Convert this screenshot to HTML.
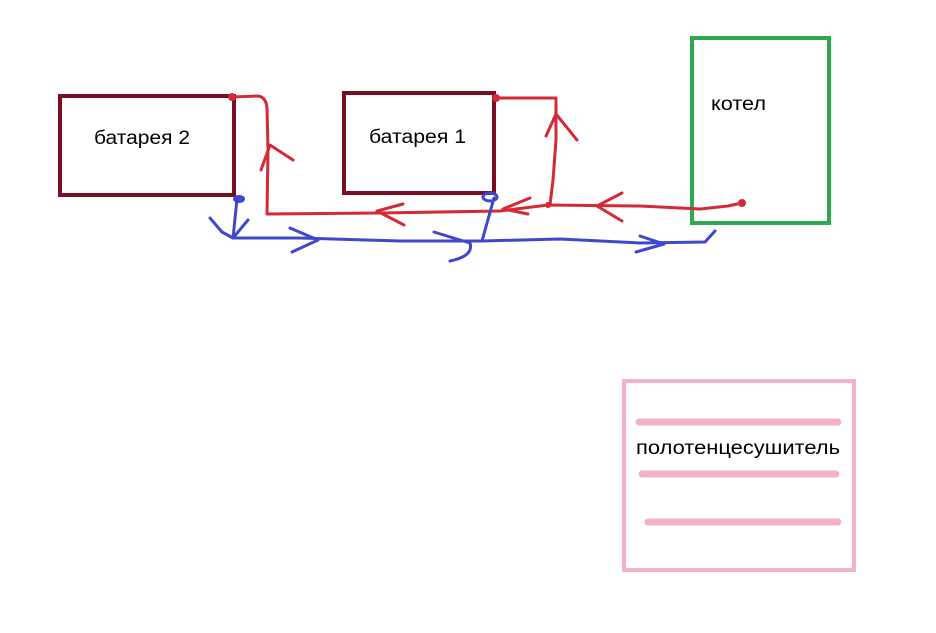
<!DOCTYPE html>
<html><head><meta charset="utf-8"><style>
html,body{margin:0;padding:0;background:#fff;}
svg{display:block}
text{font-family:"Liberation Sans","DejaVu Sans",sans-serif;fill:#000;}
</style></head><body>
<svg width="936" height="633" viewBox="0 0 936 633" xmlns="http://www.w3.org/2000/svg">
<rect width="936" height="633" fill="#fff"/>
<rect x="60" y="96" width="174" height="99" fill="none" stroke="#7a0d22" stroke-width="4"/>
<rect x="344" y="93" width="150" height="100" fill="none" stroke="#7a0d22" stroke-width="4"/>
<rect x="692" y="38" width="137" height="185" fill="none" stroke="#2fa84f" stroke-width="4"/>
<rect x="624" y="381" width="230" height="189" fill="none" stroke="#f4b2c9" stroke-width="4"/>
<g stroke="#f4b2c9" stroke-width="7" stroke-linecap="round">
<line x1="639" y1="422" x2="838" y2="422"/>
<line x1="642" y1="474" x2="836" y2="474"/>
<line x1="648" y1="522" x2="838" y2="522"/>
</g>
<text x="94" y="144" font-size="19" textLength="96" lengthAdjust="spacingAndGlyphs">батарея 2</text>
<text x="369" y="143" font-size="19" textLength="97" lengthAdjust="spacingAndGlyphs">батарея 1</text>
<text x="711" y="110" font-size="19" textLength="55" lengthAdjust="spacingAndGlyphs">котел</text>
<text x="636" y="454" font-size="19" textLength="204" lengthAdjust="spacingAndGlyphs">полотенцесушитель</text>
<g fill="none" stroke="#d42a35" stroke-width="3" stroke-linecap="round" stroke-linejoin="round">
<path d="M232 97 L258 96 Q266 97 267 108 L268 150 L267 214 L380 213 L500 211 L548 205 L640 206 L700 209 L728 206 L742 203"/>
<path d="M494 98 L556 98 L556 140 L553 180 L550 205"/>
<path d="M261 170 L270 145 L293 160"/>
<path d="M546 136 L556 114 L577 140"/>
<path d="M403 204 L377 211 L404 225"/>
<path d="M530 198 L503 209 L528 214"/>
<path d="M622 193 L597 206 L622 221"/>
</g>
<circle cx="232" cy="97" r="4" fill="#d42a35"/>
<circle cx="496" cy="98" r="4" fill="#d42a35"/>
<circle cx="742" cy="203" r="4" fill="#d42a35"/>
<circle cx="548" cy="205" r="3" fill="#d42a35"/>
<g fill="none" stroke="#3f48cc" stroke-width="3" stroke-linecap="round" stroke-linejoin="round">
<path d="M237 199 L233 238 L300 238 L400 241 L482 241 L560 239 L640 243 L705 242 L715 231"/>
<path d="M494 198 L482 241"/>
<path d="M210 218 L222 232 L233 238 L248 220"/>
<path d="M290 228 L318 240 L292 252"/>
<path d="M434 232 L460 240 L470 243 Q474 256 450 261"/>
<path d="M640 236 L664 244 L636 252"/>
</g>
<ellipse cx="239" cy="199" rx="6" ry="4" fill="#3f48cc"/>
<ellipse cx="490" cy="197" rx="7" ry="4" fill="none" stroke="#3f48cc" stroke-width="3"/>
</svg>
</body></html>
